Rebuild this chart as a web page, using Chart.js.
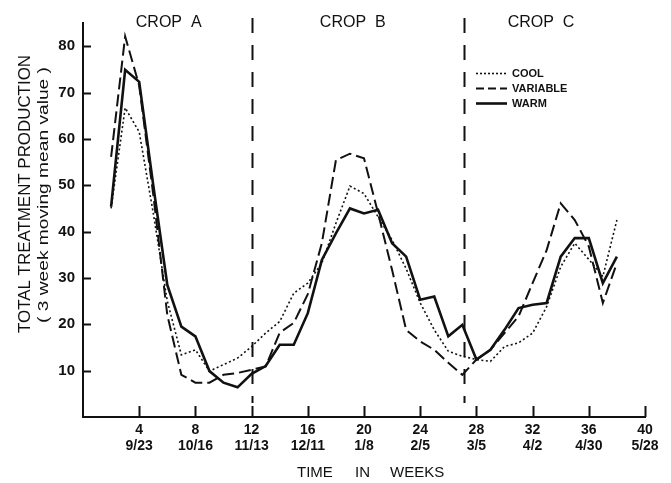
<!DOCTYPE html>
<html>
<head>
<meta charset="utf-8">
<script src="https://cdn.jsdelivr.net/npm/chart.js@4.4.1/dist/chart.umd.min.js"></script>
<style>
  html, body { margin: 0; padding: 0; background: #fff; }
  canvas { display: block; }
</style>
</head>
<body>
<canvas id="chart" width="671" height="483"></canvas>
<script>
// weeks 2..38, 3 week moving mean values
const weeks = [2, 3, 4, 5, 6, 7, 8, 9, 10, 11, 12, 13, 14, 15, 16, 17, 18, 19, 20,
  21, 22, 23, 24, 25, 26, 27, 28, 29, 30, 31, 32, 33, 34, 35, 36, 37, 38];

const cool = [45.0, 66.7, 61.5, 44.0, 25.0, 13.4, 14.5, 9.9, 11.3, 12.7, 15.2, 18.1, 20.6, 26.7, 28.9, 33.2, 41.8, 49.8, 48.2,
  43.2, 38.2, 32.0, 24.6, 18.8, 14.2, 13.1, 12.4, 12.0, 15.2, 16.0, 18.1, 23.8, 32.4, 37.5, 34.0, 30.3, 42.5];

const variable = [56.1, 82.1, 71.5, 48.0, 22.0, 9.1, 7.4, 7.4, 9.1, 9.5, 10.2, 10.9, 18.2, 20.3, 26.5, 37.5, 55.4, 56.8, 55.8,
  44.0, 31.7, 18.8, 16.3, 14.5, 11.7, 9.1, 12.4, 14.5, 18.1, 21.7, 28.9, 36.0, 46.1, 42.5, 36.8, 24.6, 33.2];

const warm = [45.4, 74.9, 72.3, 50.0, 28.5, 19.5, 17.4, 9.9, 7.4, 6.4, 9.3, 11.0, 15.6, 15.6, 22.4, 33.9, 39.6, 45.0, 43.9,
  44.7, 37.5, 34.6, 25.3, 26.0, 17.4, 19.9, 12.4, 14.5, 18.8, 23.5, 24.2, 24.6, 34.6, 38.6, 38.6, 28.9, 34.6];

const xTicks = [4, 8, 12, 16, 20, 24, 28, 32, 36, 40];
const xDates = ["9/23", "10/16", "11/13", "12/11", "1/8", "2/5", "3/5", "4/2", "4/30", "5/28"];
const yTicks = [10, 20, 30, 40, 50, 60, 70, 80];

const cropBounds = [12, 27.1];
const cropNames = ["CROP  A", "CROP  B", "CROP  C"];
const cropCenters = [6.1, 19.2, 32.6];

const INK = "#111";
const FONT = "'Liberation Sans', Arial, sans-serif";

const toPoints = (vals) => weeks.map((w, i) => ({ x: w, y: vals[i] }));

// axis ticks, crop dividers, legend and titles
const decor = {
  id: "decor",
  afterDraw(chart) {
    const { ctx, chartArea: area } = chart;
    const x = chart.scales.x;
    const y = chart.scales.y;
    ctx.save();
    ctx.strokeStyle = INK;
    ctx.fillStyle = INK;

    // inward tick marks
    ctx.lineWidth = 2;
    xTicks.forEach(v => {
      const px = Math.round(x.getPixelForValue(v)) + 0.5;
      ctx.beginPath();
      ctx.moveTo(px, area.bottom);
      ctx.lineTo(px, area.bottom - 11);
      ctx.stroke();
    });
    yTicks.forEach(v => {
      const py = Math.round(y.getPixelForValue(v)) + 0.5;
      ctx.beginPath();
      ctx.moveTo(area.left, py);
      ctx.lineTo(area.left + 8, py);
      ctx.stroke();
    });

    // crop dividers
    ctx.lineWidth = 2;
    ctx.setLineDash([15, 12]);
    cropBounds.forEach(v => {
      const px = Math.round(x.getPixelForValue(v)) + 0.5;
      ctx.beginPath();
      ctx.moveTo(px, 18);
      ctx.lineTo(px, area.bottom - 14);
      ctx.stroke();
    });
    ctx.setLineDash([]);

    // crop labels
    ctx.font = "16px " + FONT;
    ctx.textAlign = "center";
    ctx.textBaseline = "middle";
    cropNames.forEach((name, i) => {
      ctx.fillText(name, x.getPixelForValue(cropCenters[i]), 23);
    });

    // legend
    const legendRows = [
      { label: "COOL", dash: [2, 2], width: 1.6, y: 73 },
      { label: "VARIABLE", dash: [8, 4], width: 2, y: 88 },
      { label: "WARM", dash: [], width: 2.6, y: 103 }
    ];
    ctx.font = "bold 11px " + FONT;
    ctx.textAlign = "left";
    legendRows.forEach(r => {
      ctx.lineWidth = r.width;
      ctx.setLineDash(r.dash);
      ctx.beginPath();
      ctx.moveTo(476, r.y + 0.5);
      ctx.lineTo(507, r.y + 0.5);
      ctx.stroke();
      ctx.fillText(r.label, 512, r.y + 1);
    });
    ctx.setLineDash([]);

    // y axis title, two lines
    const drawFitted = (text, font, cx, cy, len) => {
      ctx.save();
      ctx.font = font;
      const w = ctx.measureText(text).width;
      ctx.translate(cx, cy);
      ctx.rotate(-Math.PI / 2);
      ctx.scale(len / w, 1);
      ctx.textAlign = "center";
      ctx.textBaseline = "middle";
      ctx.fillText(text, 0, 0);
      ctx.restore();
    };
    drawFitted("TOTAL TREATMENT PRODUCTION", "17px " + FONT, 25, 194, 278);
    drawFitted("( 3 week moving mean value )", "15px " + FONT, 44, 195, 256);

    // x axis title
    ctx.font = "15px " + FONT;
    ctx.textAlign = "left";
    ctx.textBaseline = "middle";
    ctx.fillText("TIME", 297, 473);
    ctx.fillText("IN", 355, 473);
    ctx.fillText("WEEKS", 390, 473);

    ctx.restore();
  }
};

new Chart(document.getElementById("chart"), {
  type: "line",
  data: {
    datasets: [
      {
        label: "COOL",
        data: toPoints(cool),
        borderColor: INK,
        borderWidth: 1.6,
        borderDash: [2, 2.5],
        pointRadius: 0,
        tension: 0,
        fill: false
      },
      {
        label: "VARIABLE",
        data: toPoints(variable),
        borderColor: INK,
        borderWidth: 2,
        borderDash: [12, 5],
        pointRadius: 0,
        tension: 0,
        fill: false
      },
      {
        label: "WARM",
        data: toPoints(warm),
        borderColor: INK,
        borderWidth: 2.6,
        pointRadius: 0,
        tension: 0,
        fill: false
      }
    ]
  },
  options: {
    responsive: false,
    animation: false,
    layout: { padding: { left: 0, right: 26, top: 23, bottom: 0 } },
    plugins: {
      legend: { display: false },
      tooltip: { enabled: false }
    },
    scales: {
      x: {
        type: "linear",
        min: 0,
        max: 40,
        afterBuildTicks: s => { s.ticks = xTicks.map(v => ({ value: v })); },
        afterFit: s => { s.height = 66; },
        grid: { drawOnChartArea: false, drawTicks: false },
        border: { color: INK, width: 2 },
        ticks: {
          autoSkip: false,
          maxRotation: 0,
          padding: 5,
          color: INK,
          font: { family: FONT, size: 14, weight: "bold", lineHeight: 1.15 },
          callback: v => [String(v), xDates[xTicks.indexOf(v)]]
        }
      },
      y: {
        min: 0,
        max: 85,
        afterBuildTicks: s => { s.ticks = yTicks.map(v => ({ value: v })); },
        afterFit: s => { s.width = 83; },
        grid: { drawOnChartArea: false, drawTicks: false },
        border: { color: INK, width: 2 },
        ticks: {
          padding: 8,
          color: INK,
          font: { family: FONT, size: 15, weight: "bold" }
        }
      }
    }
  },
  plugins: [decor]
});
</script>
</body>
</html>
